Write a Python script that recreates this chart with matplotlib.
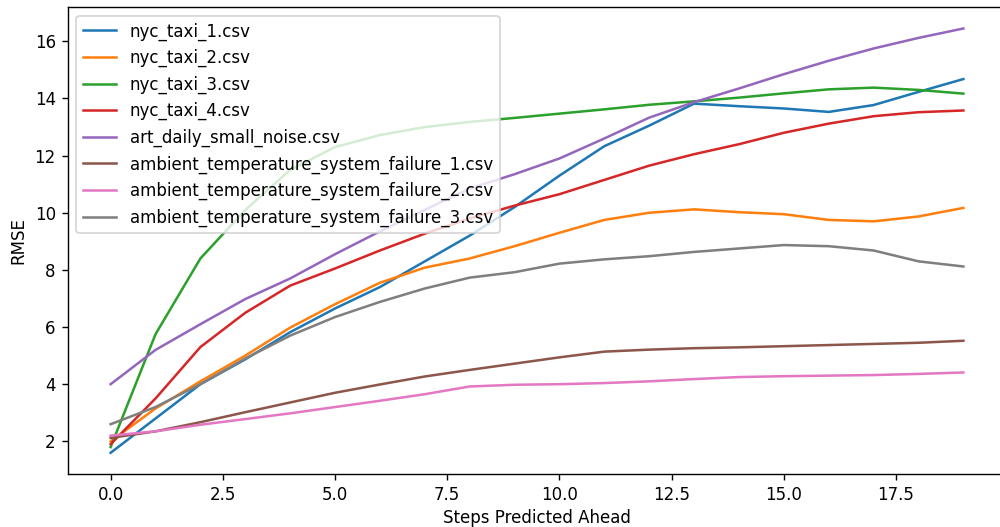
import matplotlib
matplotlib.use("Agg")
import matplotlib.pyplot as plt
import numpy as np

steps = list(range(20))

nyc_taxi_1 = [1.6, 2.8, 4.0, 4.87, 5.82, 6.65, 7.4, 8.3, 9.2, 10.2, 11.3, 12.33, 13.05, 13.82,
              13.73, 13.65, 13.53, 13.77, 14.23, 14.68]
nyc_taxi_2 = [2.0, 3.15, 4.1, 5.0, 5.98, 6.8, 7.55, 8.08, 8.4, 8.83, 9.3, 9.75, 10.0, 10.12,
              10.02, 9.95, 9.75, 9.7, 9.87, 10.17]
nyc_taxi_3 = [1.8, 5.75, 8.4, 10.1, 11.5, 12.3, 12.72, 13.0, 13.18, 13.32, 13.47, 13.62, 13.78, 13.9,
              14.03, 14.18, 14.32, 14.38, 14.3, 14.17]
nyc_taxi_4 = [1.9, 3.5, 5.3, 6.5, 7.45, 8.05, 8.68, 9.27, 9.8, 10.25, 10.65, 11.15, 11.65, 12.05,
              12.4, 12.8, 13.12, 13.38, 13.52, 13.58]
art_daily_small_noise = [4.0, 5.2, 6.1, 6.98, 7.7, 8.55, 9.35, 10.1, 10.85, 11.35, 11.9, 12.6, 13.33, 13.87,
                         14.35, 14.85, 15.32, 15.75, 16.12, 16.45]
ambient_1 = [2.12, 2.35, 2.67, 3.02, 3.36, 3.7, 3.99, 4.27, 4.5, 4.72, 4.94, 5.14, 5.21, 5.26,
             5.29, 5.33, 5.37, 5.41, 5.45, 5.52]
ambient_2 = [2.2, 2.35, 2.58, 2.78, 2.98, 3.2, 3.42, 3.65, 3.92, 3.98, 4.0, 4.04, 4.1, 4.18,
             4.25, 4.28, 4.3, 4.32, 4.36, 4.41]
ambient_3 = [2.6, 3.2, 4.0, 4.9, 5.7, 6.35, 6.88, 7.35, 7.73, 7.92, 8.22, 8.37, 8.48, 8.63,
             8.75, 8.87, 8.83, 8.68, 8.3, 8.12]

labels = ["nyc_taxi_1.csv", "nyc_taxi_2.csv", "nyc_taxi_3.csv", "nyc_taxi_4.csv",
          "art_daily_small_noise.csv",
          "ambient_temperature_system_failure_1.csv",
          "ambient_temperature_system_failure_2.csv",
          "ambient_temperature_system_failure_3.csv"]
series = [nyc_taxi_1, nyc_taxi_2, nyc_taxi_3, nyc_taxi_4, art_daily_small_noise,
          ambient_1, ambient_2, ambient_3]

plt.rcParams['font.size'] = 9.6
plt.rcParams['lines.linewidth'] = 1.45

fig = plt.figure(figsize=(8, 4.216), dpi=125)
ax = fig.add_axes([0.068, 0.1006, 0.938, 0.8856])
for vals, lab in zip(series, labels):
    ax.plot(steps, vals, label=lab)
ax.set_xlabel("Steps Predicted Ahead", labelpad=3)
ax.set_ylabel("RMSE")
ax.legend(loc="upper left")
fig.savefig("out.png", dpi=125)
